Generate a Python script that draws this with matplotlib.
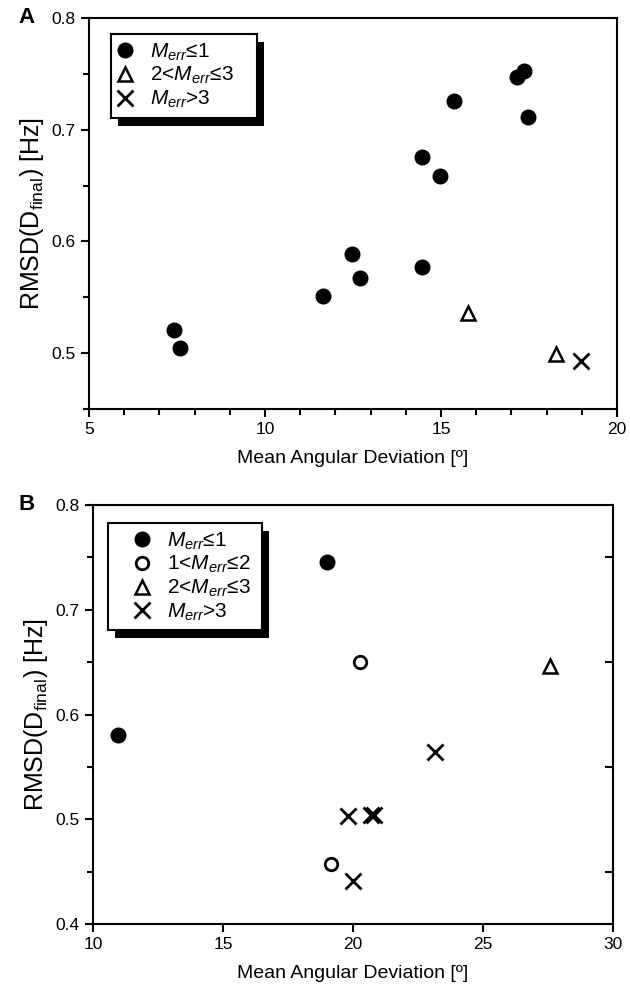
import matplotlib
matplotlib.use("Agg")
import matplotlib.pyplot as plt
from matplotlib.patches import Rectangle
from matplotlib.ticker import MultipleLocator

plt.rcParams["font.family"] = ["Liberation Sans", "DejaVu Sans"]
plt.rcParams["mathtext.fontset"] = "custom"
plt.rcParams["mathtext.rm"] = "Liberation Sans"
plt.rcParams["mathtext.it"] = "Liberation Sans:italic"

# Panel A data
a_le1_x = [7.41, 7.59, 11.65, 12.47, 12.70, 14.46, 14.46, 14.97, 15.37, 17.16, 17.36, 17.47]
a_le1_y = [0.521, 0.505, 0.551, 0.589, 0.567, 0.577, 0.676, 0.659, 0.726, 0.747, 0.753, 0.711]
a_2to3_x = [15.77, 18.27]
a_2to3_y = [0.536, 0.499]
a_gt3_x = [18.98]
a_gt3_y = [0.493]

# Panel B data
b_le1_x = [10.97, 19.0]
b_le1_y = [0.580, 0.746]
b_1to2_x = [20.27, 19.15]
b_1to2_y = [0.650, 0.457]
b_2to3_x = [27.6]
b_2to3_y = [0.646]
b_gt3_x = [19.82, 20.68, 20.80, 23.15, 20.0]
b_gt3_y = [0.503, 0.504, 0.504, 0.564, 0.441]

lab_le1 = r"$\mathit{M}_{\mathit{err}}$≤1"
lab_1to2 = r"1<$\mathit{M}_{\mathit{err}}$≤2"
lab_2to3 = r"2<$\mathit{M}_{\mathit{err}}$≤3"
lab_gt3 = r"$\mathit{M}_{\mathit{err}}$>3"

fig = plt.figure(figsize=(6.3, 9.94), dpi=100)
axA = fig.add_axes([0.1413, 0.5885, 0.838, 0.3934])
axB = fig.add_axes([0.1476, 0.0704, 0.825, 0.4215])


def style(ax):
    for s in ax.spines.values():
        s.set_linewidth(1.5)
    ax.tick_params(which="both", direction="out", width=1.5, labelsize=12.5,
                   top=False, right=False)
    ax.tick_params(which="major", length=6)
    ax.tick_params(which="minor", length=4)
    ax.set_xlabel("Mean Angular Deviation [º]", fontsize=14, labelpad=9)
    ax.set_ylabel(r"RMSD(D$_\mathregular{final}$) [Hz]", fontsize=18, labelpad=4)


def shadow_legend(ax, handles, labels, anchor, pad_left, pad_right):
    # legend without its own frame; a box with a black drop shadow is drawn behind it
    leg = ax.legend(handles, labels, loc="upper left", bbox_to_anchor=anchor,
                    borderaxespad=0, frameon=False, fontsize=15, labelspacing=0.12,
                    handletextpad=0.9, borderpad=0.35, handlelength=0.6)
    fig.canvas.draw()
    bb = leg.get_window_extent()
    x0 = bb.x0 - pad_left
    w = bb.width + pad_left + pad_right
    inv = ax.transAxes.inverted()
    (ax0, ay0), (ax1, ay1) = inv.transform([(x0, bb.y0), (x0 + w, bb.y1)])
    (sx0, sy0), (sx1, sy1) = inv.transform([(x0 + 7, bb.y0 - 8), (x0 + w + 7, bb.y1 - 8)])
    ax.add_patch(Rectangle((sx0, sy0), sx1 - sx0, sy1 - sy0, transform=ax.transAxes,
                           facecolor="black", edgecolor="none", zorder=4.5, clip_on=False))
    ax.add_patch(Rectangle((ax0, ay0), ax1 - ax0, ay1 - ay0, transform=ax.transAxes,
                           facecolor="white", edgecolor="black", linewidth=1.5,
                           zorder=4.8, clip_on=False))


# Panel A
h1, = axA.plot(a_le1_x, a_le1_y, "o", color="black", markersize=10.5, linestyle="none")
h3, = axA.plot(a_2to3_x, a_2to3_y, "^", markerfacecolor="white", markeredgecolor="black",
               markersize=10, markeredgewidth=1.8, linestyle="none")
h4, = axA.plot(a_gt3_x, a_gt3_y, "x", color="black", markersize=11,
               markeredgewidth=2, linestyle="none")
axA.set_xlim(5, 20)
axA.set_ylim(0.45, 0.8)
axA.set_xticks([5, 10, 15, 20])
axA.xaxis.set_minor_locator(MultipleLocator(1))
axA.set_yticks([0.5, 0.6, 0.7, 0.8])
axA.yaxis.set_minor_locator(MultipleLocator(0.05))
style(axA)
shadow_legend(axA, [h1, h3, h4], [lab_le1, lab_2to3, lab_gt3], (0.042, 0.959), 0, 16)
fig.text(0.03, 0.982, "A", fontsize=16, fontweight="bold", va="center")

# Panel B
g1, = axB.plot(b_le1_x, b_le1_y, "o", color="black", markersize=10.5, linestyle="none")
g2, = axB.plot(b_1to2_x, b_1to2_y, "o", markerfacecolor="white", markeredgecolor="black",
               markersize=9, markeredgewidth=2, linestyle="none")
g3, = axB.plot(b_2to3_x, b_2to3_y, "^", markerfacecolor="white", markeredgecolor="black",
               markersize=10, markeredgewidth=1.8, linestyle="none")
g4, = axB.plot(b_gt3_x, b_gt3_y, "x", color="black", markersize=11,
               markeredgewidth=2, linestyle="none")
axB.set_xlim(10, 30)
axB.set_ylim(0.4, 0.8)
axB.set_xticks([10, 15, 20, 25, 30])
axB.set_yticks([0.4, 0.5, 0.6, 0.7, 0.8])
axB.yaxis.set_minor_locator(MultipleLocator(0.05))
style(axB)
sec = axB.secondary_yaxis("right")
sec.set_yticks([0.45, 0.55, 0.65, 0.75])
sec.tick_params(direction="in", length=6, width=1.5, labelright=False)
sec.spines["right"].set_linewidth(1.5)
shadow_legend(axB, [g1, g2, g3, g4], [lab_le1, lab_1to2, lab_2to3, lab_gt3],
              (0.069, 0.957), 21, 4)
fig.text(0.03, 0.492, "B", fontsize=16, fontweight="bold", va="center")

fig.savefig("out.png", dpi=100)
